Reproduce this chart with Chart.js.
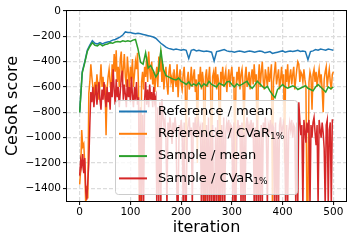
<!DOCTYPE html>
<html>
<head>
<meta charset="utf-8">
<script src="https://cdn.jsdelivr.net/npm/chart.js@4.4.0/dist/chart.umd.min.js"></script>
<style>
html, body { margin: 0; padding: 0; background: #fff; }
</style>
</head>
<body>
<canvas id="scoreChart" width="353" height="244"></canvas>
<script>
// iterations: mean curves every 5, CVaR curves every 2
const meanStep = 5;
const cvarStep = 2;

const xTicks = [0, 100, 200, 300, 400, 500];
const yTicks = [0, -200, -400, -600, -800, -1000, -1200, -1400];

const seriesNames = ['Reference / mean', 'Reference / CVaR', 'Sample / mean', 'Sample / CVaR'];
const seriesSubs = ['', '1%', '', '1%'];
const seriesColors = ['#1f77b4', '#ff7f0e', '#2ca02c', '#d62728'];

const refMean = [
  -800, -480, -400, -310, -270, -235, -255, -260, -250, -260,
  -250, -245, -240, -230, -225, -215, -205, -190, -165, -170,
  -170, -175, -180, -175, -180, -185, -190, -195, -200, -205,
  -215, -235, -255, -270, -285, -295, -300, -305, -300, -305,
  -310, -305, -310, -375, -310, -305, -315, -310, -315, -320,
  -315, -320, -325, -395, -320, -315, -310, -305, -315, -320,
  -320, -325, -320, -315, -320, -325, -320, -315, -320, -325,
  -320, -315, -320, -330, -325, -320, -335, -330, -325, -320,
  -315, -325, -320, -315, -320, -315, -310, -320, -315, -320,
  -385, -320, -315, -305, -310, -300, -305, -310, -300, -305,
  -310
];

const sampleMean = [
  -800, -490, -410, -320, -280, -250, -270, -275, -260, -275,
  -265, -260, -250, -255, -245, -240, -245, -235, -240, -235,
  -240, -230, -225, -300, -405, -420, -330, -450, -430, -470,
  -520, -490, -310, -460, -510, -520, -530, -540, -545, -530,
  -555, -565, -580, -560, -590, -575, -590, -565, -600, -575,
  -590, -555, -580, -590, -600, -570, -580, -590, -560, -555,
  -580, -600, -575, -590, -580, -565, -555, -590, -610, -585,
  -555, -575, -595, -610, -595, -630, -660, -685, -620, -600,
  -580, -600, -610, -600, -590, -600, -620, -610, -600, -590,
  -610, -620, -630, -600, -580, -600, -620, -640, -600, -615,
  -600
];

const refCvar = [
  -1370, -1250, -940, -1070, -1050, -1200, -1550, -1380, -1480, -650,
  -560, -420, -520, -600, -680, -560, -640, -500, -600, -700,
  -560, -420, -600, -520, -640, -580, -980, -620, -520, -460,
  -560, -640, -420, -520, -340, -480, -310, -560, -440, -600,
  -380, -320, -560, -460, -340, -520, -600, -360, -480, -620,
  -440, -540, -380, -600, -500, -400, -460, -330, -600, -1550,
  -1550, -560, -480, -620, -440, -520, -360, -560, -320, -460,
  -540, -400, -580, -480, -640, -520, -440, -600, -360, -480,
  -310, -560, -420, -620, -500, -440, -580, -660, -480, -420,
  -560, -520, -640, -460, -540, -600, -420, -680, -520, -460,
  -580, -620, -500, -440, -600, -1100, -540, -480, -620, -560,
  -440, -600, -520, -460, -640, -540, -1200, -500, -560, -440,
  -620, -480, -560, -1550, -520, -460, -600, -540, -440, -620,
  -1400, -520, -480, -580, -440, -620, -500, -560, -1550, -480,
  -540, -440, -600, -520, -470, -640, -540, -460, -600, -500,
  -440, -580, -520, -1300, -600, -480, -540, -440, -620, -500,
  -460, -580, -1000, -520, -440, -600, -540, -480, -620, -520,
  -460, -580, -420, -560, -500, -1450, -540, -420, -600, -480,
  -400, -560, -620, -460, -520, -600, -440, -560, -500, -420,
  -1550, -560, -480, -400, -580, -520, -460, -620, -540, -440,
  -580, -500, -1200, -460, -560, -420, -600, -520, -460, -580,
  -500, -440, -620, -540, -460, -400, -420, -560, -480, -500,
  -560, -460, -540, -600, -1550, -1550, -560, -480, -520, -780,
  -500, -460, -560, -480, -600, -520, -460, -560, -500, -620,
  -800, -540, -480, -440, -600, -520, -460, -560, -620, -500,
  -480
];

const sampleCvar = [
  -1300, -1180, -1230, -1130, -1280, -1160, -1420, -1490, -1350, -1200,
  -900, -640, -720, -600, -760, -660, -580, -740, -640, -560,
  -700, -780, -620, -700, -560, -680, -760, -600, -720, -640,
  -780, -560, -680, -460, -620, -740, -540, -680, -600, -760,
  -640, -520, -470, -700, -580, -660, -760, -540, -680, -600,
  -720, -520, -660, -760, -600, -700, -560, -740, -680, -1550,
  -760, -1550, -820, -1550, -700, -560, -740, -620, -760, -580,
  -700, -640, -760, -600, -720, -680, -1550, -760, -1550, -720,
  -1550, -700, -820, -900, -860, -1000, -1550, -880, -960, -840,
  -920, -1050, -880, -960, -840, -920, -1550, -1550, -900, -980,
  -860, -940, -1550, -880, -1550, -1550, -960, -900, -840, -980,
  -920, -1550, -880, -960, -840, -1000, -900, -860, -960, -920,
  -1550, -880, -1550, -960, -1550, -900, -1550, -840, -1550, -980,
  -1550, -900, -1550, -1550, -920, -1550, -860, -1550, -960, -1550,
  -900, -1550, -840, -1550, -960, -880, -940, -860, -1000, -900,
  -920, -1550, -880, -1550, -1550, -940, -860, -980, -900, -1550,
  -880, -1550, -960, -1550, -900, -840, -980, -900, -940, -860,
  -1000, -880, -1550, -920, -1550, -860, -1550, -960, -1550, -900,
  -1550, -880, -960, -840, -1000, -1550, -900, -940, -860, -980,
  -900, -920, -1550, -880, -1550, -960, -1550, -900, -840, -980,
  -920, -880, -1000, -1550, -900, -1550, -960, -880, -940, -860,
  -1000, -900, -920, -1550, -880, -1550, -720, -860, -980, -900,
  -1550, -860, -940, -1040, -880, -960, -860, -1550, -900, -1000,
  -880, -840, -960, -1060, -900, -1550, -860, -940, -1000, -880,
  -960, -1090, -1550, -900, -860, -1550, -940, -880, -1550, -860,
  -860
];

function toPoints(values, step) {
  return values.map((v, i) => ({ x: i * step, y: v }));
}

function minusSign(v) {
  return v < 0 ? '\u2212' + Math.abs(v) : String(v);
}

const seriesData = [
  toPoints(refMean, meanStep),
  toPoints(refCvar, cvarStep),
  toPoints(sampleMean, meanStep),
  toPoints(sampleCvar, cvarStep)
];

// frame on all four sides + matplotlib style legend on top of the lines
const frameAndLegend = {
  id: 'frameAndLegend',
  afterDatasetsDraw(chart) {
    const ctx = chart.ctx;
    const a = chart.chartArea;
    ctx.save();
    ctx.strokeStyle = '#000';
    ctx.lineWidth = 1;
    ctx.strokeRect(a.left - 0.5, a.top - 0.5, a.right - a.left + 1, a.bottom - a.top + 1);

    const lx = 115.5, ly = 100.5, lw = 182, lh = 94, r = 3;
    ctx.beginPath();
    ctx.moveTo(lx + r, ly);
    ctx.arcTo(lx + lw, ly, lx + lw, ly + lh, r);
    ctx.arcTo(lx + lw, ly + lh, lx, ly + lh, r);
    ctx.arcTo(lx, ly + lh, lx, ly, r);
    ctx.arcTo(lx, ly, lx + lw, ly, r);
    ctx.closePath();
    ctx.fillStyle = 'rgba(255,255,255,0.8)';
    ctx.fill();
    ctx.strokeStyle = '#cccccc';
    ctx.stroke();

    ctx.textBaseline = 'middle';
    for (let i = 0; i < seriesNames.length; i++) {
      const y = 111.5 + i * 22.3;
      ctx.strokeStyle = seriesColors[i];
      ctx.lineWidth = 2;
      ctx.beginPath();
      ctx.moveTo(119, y);
      ctx.lineTo(147, y);
      ctx.stroke();
      ctx.fillStyle = '#000';
      ctx.font = '13px "DejaVu Sans"';
      ctx.fillText(seriesNames[i], 158, y);
      if (seriesSubs[i]) {
        const w = ctx.measureText(seriesNames[i]).width;
        ctx.font = '9px "DejaVu Sans"';
        ctx.fillText(seriesSubs[i], 158 + w, y + 3);
      }
    }
    ctx.restore();
  }
};

const ctx = document.getElementById('scoreChart').getContext('2d');
new Chart(ctx, {
  type: 'line',
  data: {
    datasets: seriesData.map((pts, i) => ({
      label: seriesNames[i] + seriesSubs[i],
      data: pts,
      borderColor: seriesColors[i],
      backgroundColor: seriesColors[i],
      borderWidth: 1.5,
      pointRadius: 0,
      tension: 0,
      order: 3 - i
    }))
  },
  options: {
    responsive: false,
    animation: false,
    events: [],
    layout: { padding: { left: 0, top: 11, right: 7, bottom: 0 } },
    plugins: {
      legend: { display: false },
      tooltip: { enabled: false }
    },
    scales: {
      x: {
        type: 'linear',
        min: -25,
        max: 525,
        afterBuildTicks: (scale) => { scale.ticks = xTicks.map(v => ({ value: v })); },
        afterFit: (scale) => { scale.height = 43; },
        grid: { color: '#dcdcdc', lineWidth: 1.2, tickLength: 4, tickColor: '#000', tickWidth: 1 },
        border: { display: false, dash: [4, 2] },
        ticks: {
          color: '#000',
          padding: 1,
          maxRotation: 0,
          font: { family: 'DejaVu Sans', size: 10.5 },
          callback: (v) => minusSign(v)
        },
        title: {
          display: true,
          text: 'iteration',
          color: '#000',
          font: { family: 'DejaVu Sans', size: 16 },
          padding: { top: 0, bottom: 7 }
        }
      },
      y: {
        min: -1500,
        max: 0,
        afterBuildTicks: (scale) => { scale.ticks = yTicks.map(v => ({ value: v })); },
        afterFit: (scale) => { scale.width = 67; },
        grid: { color: '#dcdcdc', lineWidth: 1.2, tickLength: 4, tickColor: '#000', tickWidth: 1 },
        border: { display: false, dash: [4, 2] },
        ticks: {
          color: '#000',
          padding: 2,
          font: { family: 'DejaVu Sans', size: 10.5 },
          callback: (v) => minusSign(v)
        },
        title: {
          display: true,
          text: 'CeSoR score',
          color: '#000',
          font: { family: 'DejaVu Sans', size: 16 },
          padding: { top: 3, bottom: 0 }
        }
      }
    }
  },
  plugins: [frameAndLegend]
});
</script>
</body>
</html>
